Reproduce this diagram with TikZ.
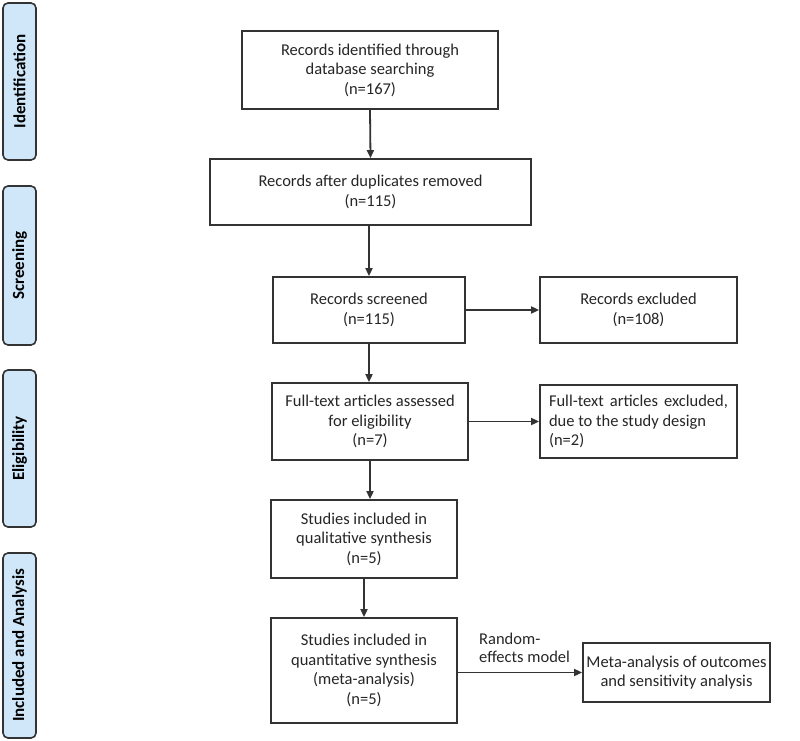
\documentclass[tikz,border=0pt]{standalone}
\usepackage{fontspec}
\setmainfont{Carlito}
\usetikzlibrary{arrows.meta,positioning}
\definecolor{sidefill}{HTML}{CFE7F8}
\definecolor{linec}{HTML}{333333}
\definecolor{textc}{HTML}{262626}
\begin{document}
\begin{tikzpicture}[x=1pt,y=-1pt,
  box/.style={draw=linec,line width=1.8pt,fill=white,align=center,text=textc,
    font=\fontsize{16.5}{19.5}\selectfont,inner sep=3pt},
  side/.style={draw=linec,line width=1.6pt,fill=sidefill,rounded corners=5pt,
    text=black,font=\fontsize{17}{19}\selectfont\bfseries,inner sep=0pt},
  arr/.style={draw=linec,line width=1.8pt,-{Triangle[length=8pt,width=7pt]}}]
\useasboundingbox (0,0) rectangle (800,741);
% side labels
\node[side,minimum width=157pt,minimum height=33pt,rotate=90] (sid) at (19.5,81.5) {Identification};
\node[side,minimum width=159pt,minimum height=33pt,rotate=90] (sscr) at (19.5,265.5) {Screening};
\node[side,minimum width=157pt,minimum height=33pt,rotate=90] (selig) at (19.5,448.5) {Eligibility};
\node[side,minimum width=185pt,minimum height=33pt,rotate=90] (sinc) at (19.5,645.5) {Included and Analysis};
% main boxes
\node[box,minimum width=256pt,minimum height=78pt] (b1) at (370,70) {Records identified through\\database searching\\(n=167)};
\node[box,minimum width=321pt,minimum height=66pt] (b2) at (370.5,192) {Records after duplicates removed\\(n=115)};
\node[box,minimum width=192pt,minimum height=66pt] (b3) at (369,310) {Records screened\\(n=115)};
\node[box,minimum width=197pt,minimum height=66pt] (e1) at (638.5,310) {Records excluded\\(n=108)};
\node[box,minimum width=196pt,minimum height=77pt] (b4) at (370,421.5) {Full-text articles assessed\\for eligibility\\(n=7)};
\node[box,minimum width=197pt,minimum height=73pt,text width=179pt,align=justify,inner sep=8pt] (e2) at (638.5,421.5) {Full-text articles excluded, due to the study design\\(n=2)};
\node[box,minimum width=186pt,minimum height=78pt] (b5) at (364,539) {Studies included in\\qualitative synthesis\\(n=5)};
\node[box,minimum width=186pt,minimum height=105pt] (b6) at (364,670.5) {Studies included in\\quantitative synthesis\\(meta-analysis)\\(n=5)};
\node[box,minimum width=187pt,minimum height=59pt] (m) at (676.5,672.5) {Meta-analysis of outcomes\\and sensitivity analysis};
\node[align=left,anchor=west,text=textc,font=\fontsize{16.5}{18.5}\selectfont,inner sep=0pt] (lbl) at (479,648) {Random-\\effects model};
% connectors
\draw[arr] (b1.south) -- (b2.north);
\draw[arr] (b2.south -| b3.north) -- (b3.north);
\draw[arr] (b3.south) -- (b4.north -| b3.south);
\draw[arr] (b4.south) -- (b4.south |- b5.north);
\draw[arr] (b5.south) -- (b6.north);
\draw[arr] (b3.east) -- (e1.west |- b3.east);
\draw[arr] (b4.east) -- (e2.west |- b4.east);
\draw[arr] (b6.east |- m.west) -- (m.west);
\end{tikzpicture}
\end{document}
